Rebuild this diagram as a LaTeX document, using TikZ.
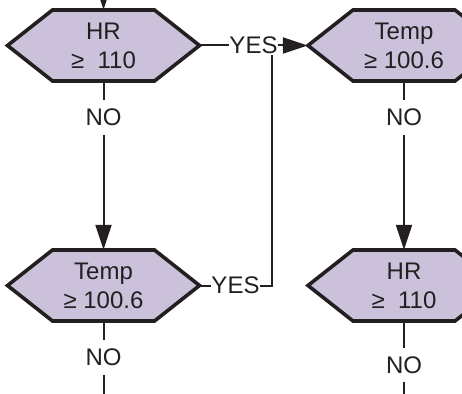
\documentclass[tikz,border=0pt]{standalone}
\usepackage{fontspec}
\newfontfamily\flowfont{Liberation Sans}
\usetikzlibrary{arrows.meta}
\definecolor{hexfill}{HTML}{CCC1DB}
\definecolor{ink}{HTML}{231F20}
\begin{document}
\begin{tikzpicture}[x=1pt,y=-1pt,
		hexa/.style={draw=ink,fill=hexfill,line width=3.6pt},
		hexlabel/.style={minimum width=192pt,minimum height=71pt,inner sep=0pt,align=center,text=ink,font=\flowfont\fontsize{24}{29}\selectfont},
		answer/.style={inner xsep=0pt,inner ysep=8.7pt,text=ink,font=\flowfont\fontsize{24}{29}\selectfont},
		link/.style={draw=ink,line width=2pt},
		arr/.style={link,-{Triangle[length=25pt,width=16pt]}}]
			\useasboundingbox (0,0) rectangle (462,393);
			\coordinate (HRa) at (103.5,45.5);
			\coordinate (TPa) at (404,45.5);
			\coordinate (TPb) at (103.5,285.5);
			\coordinate (HRb) at (404,285.5);
			\coordinate (entry) at (103.5,-20);
			\coordinate (join) at (272,55);
			\coordinate (endc) at (103.5,400);
			\coordinate (endd) at (404,400);
			\foreach \c in {HRa,TPa,TPb,HRb}
				\draw [hexa,shift={(\c)}] (-96,0) -- (-51,-35.5) -- (51,-35.5) -- (96,0) -- (51,35.5) -- (-51,35.5) -- cycle;
			\node [hexlabel] (hra) at (HRa) {HR\\≥\ \ 110};
			\node [hexlabel] (tpa) at (TPa) {Temp\\≥ 100.6};
			\node [hexlabel] (tpb) at (TPb) {Temp\\≥ 100.6};
			\node [hexlabel] (hrb) at (HRb) {HR\\≥\ \ 110};
			\node [answer,inner ysep=0pt] (ya) at (253.5,45.5) {YES};
			\node [answer,inner ysep=0pt] (yb) at (235.5,285.5) {YES};
			\node [answer] (na) at (103.5,117.5) {NO};
			\node [answer] (nb) at (404,117.5) {NO};
			\node [answer] (nc) at (103.5,357.5) {NO};
			\node [answer] (nd) at (404,365) {NO};
			\draw [arr] (entry) to (hra.north);
			\draw [link] (hra.east) to (ya.west);
			\draw [arr] (ya.east) to (tpa.west);
			\draw [link] (tpb.east) to (yb.west);
			\draw [link] (yb.east) -| (join);
			\draw [link] (hra.south) to (na.north);
			\draw [arr] (na.south) to (tpb.north);
			\draw [link] (tpa.south) to (nb.north);
			\draw [arr] (nb.south) to (hrb.north);
			\draw [link] (tpb.south) to (nc.north);
			\draw [link] (nc.south) to (endc);
			\draw [link] (hrb.south) to (nd.north);
			\draw [link] (nd.south) to (endd);
		\end{tikzpicture}
\end{document}
